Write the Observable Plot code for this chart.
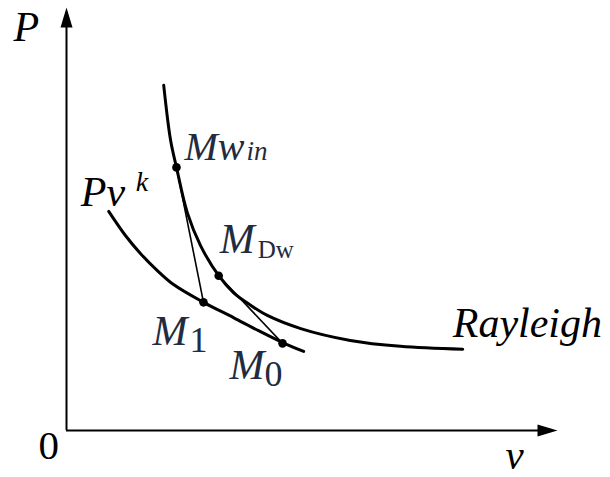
<!DOCTYPE html>
<html><head><meta charset="utf-8">
<script src="https://cdn.jsdelivr.net/npm/d3@7"></script>
<script src="https://cdn.jsdelivr.net/npm/@observablehq/plot@0.6"></script>
<style>body{margin:0;background:#fff} svg{display:block}</style>
</head><body><div id="chart"></div>
<script>
// Rayleigh line
const rayleighV = [1.98, 2.12, 2.24, 2.46, 2.73, 3.10, 3.40, 3.75, 4.09, 4.77, 5.78, 6.80, 8.07];
const rayleighP = [8.16, 6.86, 6.22, 5.15, 4.37, 3.66, 3.26, 2.96, 2.72, 2.41, 2.13, 1.99, 1.92];
// Pv^k curve
const polyV = [0.86, 1.20, 1.51, 1.85, 2.18, 2.79, 3.40, 3.91, 4.40, 4.83];
const polyP = [5.18, 4.61, 4.18, 3.78, 3.45, 3.03, 2.67, 2.36, 2.08, 1.87];
// state points
const pointNames = ["Mwin", "MDw", "M1", "M0"];
const pointV = [2.24, 3.10, 2.79, 4.40];
const pointP = [6.22, 3.66, 3.03, 2.06];
const segFrom = ["Mwin", "MDw"];
const segTo = ["M1", "M0"];
// axes extents
const vAxisEnd = 10;
const pAxisEnd = 10;

const rayleigh = rayleighV.map((v, i) => ({v, P: rayleighP[i]}));
const poly = polyV.map((v, i) => ({v, P: polyP[i]}));
const pts = Object.fromEntries(pointNames.map((n, i) => [n, {v: pointV[i], P: pointP[i]}]));
const segs = segFrom.map((f, i) => ({a: pts[f], b: pts[segTo[i]]}));

const arrowHead = {draw(ctx) { ctx.moveTo(0, 0); ctx.lineTo(-6, 20); ctx.lineTo(6, 20); ctx.closePath(); }};
const serif = "Liberation Serif";
const labelColor = "#222c40";

function label(pt, txt, o) {
  return Plot.text([txt], {
    x: [pt.v], y: [pt.P], text: [txt],
    textAnchor: "start", lineAnchor: "bottom",
    fontFamily: serif, fontSize: o.size, fontStyle: o.italic ? "italic" : "normal",
    fill: o.color || "black", dx: o.dx, dy: o.dy
  });
}

const origin = {v: 0, P: 0};
const pTop = {v: 0, P: pAxisEnd};
const vEnd = {v: vAxisEnd, P: 0};
const rEnd = rayleigh[rayleigh.length - 1];
const polyStart = poly[0];

const chart = Plot.plot({
  width: 610, height: 477,
  marginLeft: 66, marginRight: 53, marginTop: 7, marginBottom: 47,
  x: {domain: [0, vAxisEnd], axis: null},
  y: {domain: [0, pAxisEnd], axis: null},
  marks: [
    Plot.ruleY([0], {x1: 0, x2: vAxisEnd - 0.3, stroke: "black", strokeWidth: 2}),
    Plot.ruleX([0], {y1: 0, y2: pAxisEnd - 0.3, stroke: "black", strokeWidth: 2}),
    Plot.dot([pTop], {x: "v", y: "P", symbol: arrowHead, fill: "black", stroke: "none"}),
    Plot.dot([vEnd], {x: "v", y: "P", symbol: arrowHead, rotate: 90, fill: "black", stroke: "none"}),
    Plot.line(rayleigh, {x: "v", y: "P", curve: "catmull-rom", stroke: "black", strokeWidth: 3}),
    Plot.line(poly, {x: "v", y: "P", curve: "catmull-rom", stroke: "black", strokeWidth: 3}),
    Plot.link(segs, {x1: d => d.a.v, y1: d => d.a.P, x2: d => d.b.v, y2: d => d.b.P, stroke: "black", strokeWidth: 1.6}),
    Plot.dot(pointNames.map(n => pts[n]), {x: "v", y: "P", r: 4.3, fill: "black", stroke: "none"}),
    // axis labels
    label(pTop, "P", {size: 42, italic: true, dx: -53, dy: 33}),
    label(origin, "0", {size: 41, dx: -28, dy: 28}),
    label(vEnd, "v", {size: 41, italic: true, dx: -52, dy: 38}),
    // curve labels
    label(rEnd, "Rayleigh", {size: 42, italic: true, dx: -10, dy: -12}),
    label(polyStart, "Pv", {size: 42, italic: true, dx: -28, dy: -5}),
    label(polyStart, "k", {size: 28, italic: true, dx: 27, dy: -20}),
    // point labels
    label(pts.Mwin, "Mw", {size: 40, italic: true, color: labelColor, dx: 8, dy: -7}),
    label(pts.Mwin, "in", {size: 27, italic: true, color: labelColor, dx: 70, dy: -7}),
    label(pts.MDw, "M", {size: 42, italic: true, color: labelColor, dx: 1, dy: -23}),
    label(pts.MDw, "Dw", {size: 25, color: labelColor, dx: 39, dy: -18}),
    label(pts.M1, "M", {size: 42, italic: true, color: labelColor, dx: -51, dy: 43}),
    label(pts.M1, "1", {size: 36, color: labelColor, dx: -14, dy: 50}),
    label(pts.M0, "M", {size: 42, italic: true, color: labelColor, dx: -53, dy: 36}),
    label(pts.M0, "0", {size: 36, color: labelColor, dx: -18, dy: 43})
  ]
});
d3.select(chart).attr("font-family", serif);
document.getElementById("chart").appendChild(chart);
</script>
</body></html>
